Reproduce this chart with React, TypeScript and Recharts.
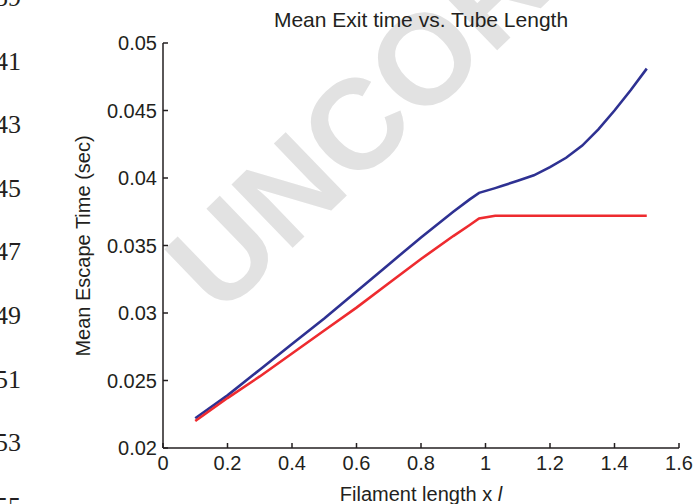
import { LineChart, Line, XAxis, YAxis } from "recharts"

// filament length (x l) and mean escape time (sec) for the two runs
const lengths = [0.1, 0.2, 0.3, 0.4, 0.5, 0.6, 0.7, 0.8, 0.9, 0.95, 0.98, 1.03, 1.05, 1.1, 1.15, 1.2, 1.25, 1.3, 1.35, 1.4, 1.45, 1.5]
const blueTimes = [0.0222, 0.0239, 0.0258, 0.0277, 0.0296, 0.0316, 0.0336, 0.0356, 0.0375, 0.0384, 0.0389, 0.03925, 0.0394, 0.0398, 0.0402, 0.0408, 0.0415, 0.0424, 0.0436, 0.045, 0.0465, 0.0481]
const redTimes = [0.022, 0.0237, 0.0253, 0.027, 0.0287, 0.0304, 0.0322, 0.034, 0.0357, 0.0365, 0.037, 0.0372, 0.0372, 0.0372, 0.0372, 0.0372, 0.0372, 0.0372, 0.0372, 0.0372, 0.0372, 0.0372]

const xTicks = [0, 0.2, 0.4, 0.6, 0.8, 1, 1.2, 1.4, 1.6]
const yTicks = [0.02, 0.025, 0.03, 0.035, 0.04, 0.045, 0.05]
const lineNumbers = ["39", "41", "43", "45", "47", "49", "51", "53", "55"]

const data = lengths.map((x, i) => ({ x, blue: blueTimes[i], red: redTimes[i] }))

const ink = "#231f20"
const font = "'Liberation Sans', Arial, sans-serif"

export default function App() {
  return (
    <div style={{ position: "absolute", left: 0, top: 0, width: 696, height: 504 }}>
      <svg width={696} height={504} style={{ position: "absolute", left: 0, top: 0 }}>
        {lineNumbers.map((n, i) => (
          <text
            key={n}
            x={21}
            y={6 + i * 63.6}
            textAnchor="end"
            fontSize={26}
            fontFamily="'Liberation Serif', 'Times New Roman', serif"
            fill={ink}
          >
            {n}
          </text>
        ))}
        <text
          x={220}
          y={318}
          transform="rotate(-44 220 318)"
          fontSize={128}
          fontWeight="bold"
          fontFamily={font}
          fill="#e2e2e2"
        >
          UNCORRECTED PROOF
        </text>
        <text x={421} y={27} textAnchor="middle" fontSize={21} fontFamily={font} fill={ink}>
          Mean Exit time vs. Tube Length
        </text>
      </svg>
      <div style={{ position: "absolute", left: 0, top: 0 }}>
        <LineChart
          width={696}
          height={504}
          data={data}
          margin={{ top: 43, right: 17, bottom: 16, left: 93 }}
        >
          <XAxis
            xAxisId="bottom"
            dataKey="x"
            type="number"
            domain={[0, 1.6]}
            ticks={xTicks}
            interval={0}
            height={40}
            tickSize={-5}
            tickMargin={13}
            stroke={ink}
            strokeWidth={1.5}
            tick={{ fill: ink, fontSize: 20, fontFamily: font }}
            label={{
              content: () => (
                <text x={421} y={501} textAnchor="middle" fontSize={20} fontFamily={font} fill={ink}>
                  Filament length x <tspan fontStyle="italic">l</tspan>
                </text>
              ),
            }}
          />
          <XAxis
            xAxisId="top"
            orientation="top"
            dataKey="x"
            type="number"
            domain={[0, 1.6]}
            ticks={xTicks}
            interval={0}
            height={0}
            tickSize={-5}
            tick={false}
            stroke={ink}
            strokeWidth={1.5}
          />
          <YAxis
            yAxisId="left"
            type="number"
            domain={[0.02, 0.05]}
            ticks={yTicks}
            interval={0}
            width={70}
            tickSize={-5}
            tickMargin={11}
            stroke={ink}
            strokeWidth={1.5}
            tick={{ fill: ink, fontSize: 20, fontFamily: font }}
            label={{
              content: () => (
                <text
                  x={90}
                  y={246}
                  transform="rotate(-90 90 246)"
                  textAnchor="middle"
                  fontSize={20}
                  fontFamily={font}
                  fill={ink}
                >
                  Mean Escape Time (sec)
                </text>
              ),
            }}
          />
          <YAxis
            yAxisId="right"
            orientation="right"
            type="number"
            domain={[0.02, 0.05]}
            ticks={yTicks}
            interval={0}
            width={0}
            tickSize={-5}
            tick={false}
            stroke={ink}
            strokeWidth={1.5}
          />
          <Line
            xAxisId="bottom"
            yAxisId="left"
            dataKey="blue"
            type="linear"
            stroke="#2e3192"
            strokeWidth={2.6}
            dot={false}
            activeDot={false}
            isAnimationActive={false}
          />
          <Line
            xAxisId="bottom"
            yAxisId="left"
            dataKey="red"
            type="linear"
            stroke="#ee2b2f"
            strokeWidth={2.6}
            dot={false}
            activeDot={false}
            isAnimationActive={false}
          />
        </LineChart>
      </div>
    </div>
  )
}
